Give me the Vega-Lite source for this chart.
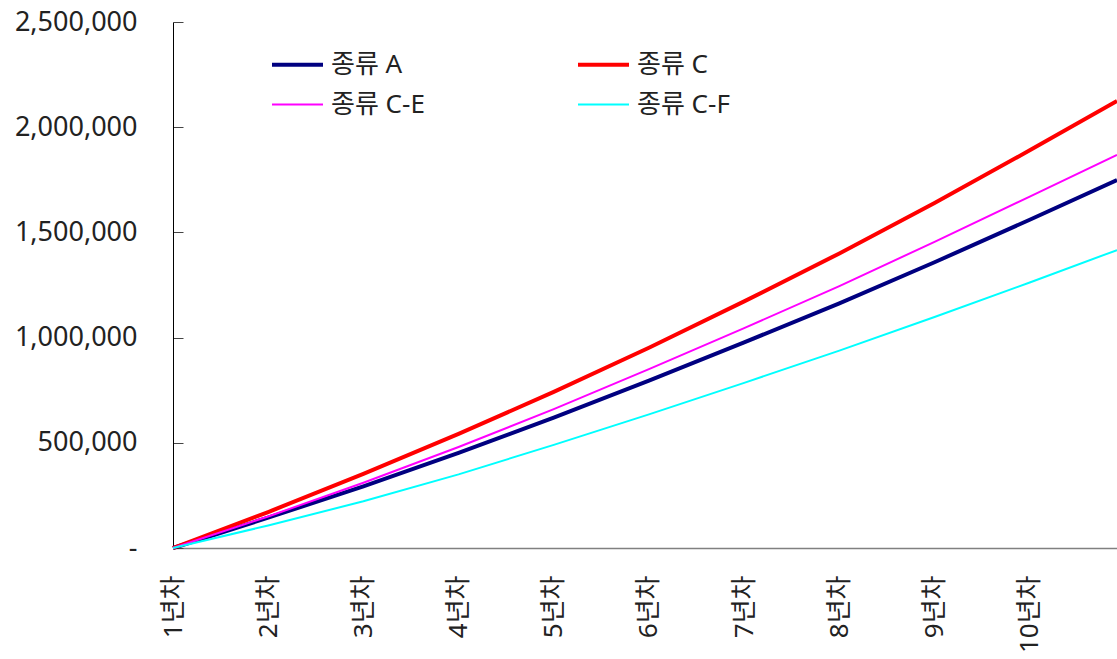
{
  "$schema": "https://vega.github.io/schema/vega-lite/v6.json",
  "width": 944,
  "height": 526,
  "autosize": {"type": "none"},
  "padding": {"left": 173, "top": 22, "right": 0, "bottom": 111},
  "background": "white",
  "config": {"view": {"stroke": null}, "font": "Noto Sans, Noto Sans CJK KR"},
  "data": {
    "values": [
      {"m": 0, "series": "종류 A", "v": 0},
      {"m": 12, "series": "종류 A", "v": 144000},
      {"m": 24, "series": "종류 A", "v": 293000},
      {"m": 36, "series": "종류 A", "v": 452000},
      {"m": 48, "series": "종류 A", "v": 620000},
      {"m": 60, "series": "종류 A", "v": 795000},
      {"m": 72, "series": "종류 A", "v": 977000},
      {"m": 84, "series": "종류 A", "v": 1163000},
      {"m": 96, "series": "종류 A", "v": 1358000},
      {"m": 108, "series": "종류 A", "v": 1560000},
      {"m": 119, "series": "종류 A", "v": 1749000},
      {"m": 0, "series": "종류 C", "v": 0},
      {"m": 12, "series": "종류 C", "v": 171000},
      {"m": 24, "series": "종류 C", "v": 352000},
      {"m": 36, "series": "종류 C", "v": 542000},
      {"m": 48, "series": "종류 C", "v": 742000},
      {"m": 60, "series": "종류 C", "v": 952000},
      {"m": 72, "series": "종류 C", "v": 1172000},
      {"m": 84, "series": "종류 C", "v": 1400000},
      {"m": 96, "series": "종류 C", "v": 1640000},
      {"m": 108, "series": "종류 C", "v": 1890000},
      {"m": 119, "series": "종류 C", "v": 2125000},
      {"m": 0, "series": "종류 C-E", "v": 0},
      {"m": 12, "series": "종류 C-E", "v": 150000},
      {"m": 24, "series": "종류 C-E", "v": 310000},
      {"m": 36, "series": "종류 C-E", "v": 480000},
      {"m": 48, "series": "종류 C-E", "v": 660000},
      {"m": 60, "series": "종류 C-E", "v": 850000},
      {"m": 72, "series": "종류 C-E", "v": 1045000},
      {"m": 84, "series": "종류 C-E", "v": 1245000},
      {"m": 96, "series": "종류 C-E", "v": 1455000},
      {"m": 108, "series": "종류 C-E", "v": 1670000},
      {"m": 119, "series": "종류 C-E", "v": 1868000},
      {"m": 0, "series": "종류 C-F", "v": 0},
      {"m": 12, "series": "종류 C-F", "v": 107000},
      {"m": 24, "series": "종류 C-F", "v": 222000},
      {"m": 36, "series": "종류 C-F", "v": 350000},
      {"m": 48, "series": "종류 C-F", "v": 490000},
      {"m": 60, "series": "종류 C-F", "v": 635000},
      {"m": 72, "series": "종류 C-F", "v": 785000},
      {"m": 84, "series": "종류 C-F", "v": 938000},
      {"m": 96, "series": "종류 C-F", "v": 1098000},
      {"m": 108, "series": "종류 C-F", "v": 1262000},
      {"m": 119, "series": "종류 C-F", "v": 1416000}
    ]
  },
  "mark": {"type": "line"},
  "encoding": {
    "x": {
      "field": "m",
      "type": "quantitative",
      "scale": {"domain": [0, 119], "nice": false, "zero": false},
      "axis": {
        "values": [0, 12, 24, 36, 48, 60, 72, 84, 96, 108],
        "labelExpr": "(datum.value / 12 + 1) + '년차'",
        "labelAngle": 270,
        "ticks": false,
        "grid": false,
        "title": null,
        "domainColor": "#808080",
        "domainWidth": 1.5,
        "labelFontSize": 26,
        "labelColor": "#222222",
        "labelPadding": 27,
        "labelFlush": false,
        "labelOverlap": false
      }
    },
    "y": {
      "field": "v",
      "type": "quantitative",
      "scale": {"domain": [0, 2500000], "nice": false},
      "axis": {
        "values": [0, 500000, 1000000, 1500000, 2000000, 2500000],
        "labelExpr": "datum.value === 0 ? '-' : format(datum.value, ',')",
        "tickSize": -10,
        "tickColor": "#444444",
        "domainColor": "#000000",
        "grid": false,
        "title": null,
        "labelFontSize": 27,
        "labelColor": "#222222",
        "labelPadding": 46,
        "labelFlush": false,
        "labelOverlap": false
      }
    },
    "color": {
      "field": "series",
      "type": "nominal",
      "scale": {
        "domain": ["종류 A", "종류 C", "종류 C-E", "종류 C-F"],
        "range": ["#000080", "#FF0000", "#FF00FF", "#00FFFF"]
      },
      "legend": {
        "orient": "none",
        "legendX": 97,
        "legendY": 15,
        "direction": "horizontal",
        "columns": 2,
        "columnPadding": 145,
        "rowPadding": -13,
        "symbolType": "stroke",
        "symbolSize": 2601,
        "labelOffset": 6,
        "labelFontSize": 26,
        "labelColor": "#222222",
        "title": null,
        "padding": 0
      }
    },
    "strokeWidth": {
      "field": "series",
      "type": "nominal",
      "scale": {
        "type": "ordinal",
        "domain": ["종류 A", "종류 C", "종류 C-E", "종류 C-F"],
        "range": [4, 4, 2, 2]
      }
    }
  }
}
